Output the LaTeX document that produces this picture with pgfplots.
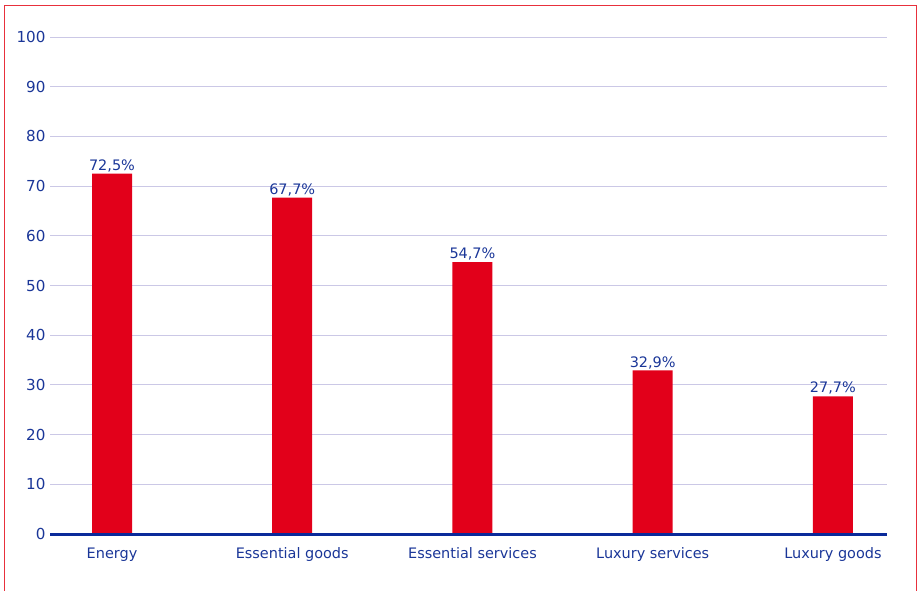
\documentclass[border=0pt]{standalone}
\usepackage{pgfplots}
\pgfplotsset{compat=1.18}
\usepackage{fontspec}
\setmainfont{DejaVu Sans}
\definecolor{barred}{HTML}{E2001A}
\definecolor{navy}{HTML}{0A2A9A}
\definecolor{txtblue}{HTML}{1A3698}
\definecolor{gridc}{HTML}{CBC8E6}
\definecolor{frame}{HTML}{E8303C}
\begin{document}
\begin{tikzpicture}
\path[use as bounding box] (0,0) rectangle (921bp,-591bp);
\draw[frame, line width=1.2bp] (4.5bp,-600bp) -- (4.5bp,-5.5bp) -- (916.5bp,-5.5bp) -- (916.5bp,-600bp);
\begin{axis}[
  at={(50bp,-534bp)}, anchor=south west,
  scale only axis, width=837bp, height=497bp,
  xmin=-0.344, xmax=4.30, ymin=0, ymax=100,
  ytick={0,10,...,100},
  xtick={0,1,2,3,4},
  xticklabels={Energy, Essential goods, Essential services, Luxury services, Luxury goods},
  axis line style={draw=none},
  major tick length=0pt,
  ymajorgrids, grid style={gridc, line width=1bp},
  /pgf/number format/assume math mode=true,
  yticklabel style={font=\fontsize{15.2}{18}\selectfont, text=txtblue, xshift=-1bp},
  xticklabel style={font=\fontsize{14.5}{16}\selectfont, text=txtblue, anchor=base, yshift=-24.5bp},
  nodes near coords={\pgfmathprintnumber[use comma,fixed,precision=1,fixed zerofill]{\pgfplotspointmeta}\%},
  every node near coord/.append style={font=\fontsize{14.5}{16}\selectfont, text=txtblue, inner sep=1.5bp},
  clip=false,
]
\addplot[ybar, bar width=40bp, fill=barred, draw=none] coordinates {(0,72.5) (1,67.7) (2,54.7) (3,32.9) (4,27.7)};
\draw[navy, line width=3bp] (axis cs:-0.344,0) -- (axis cs:4.30,0);
\end{axis}
\end{tikzpicture}
\end{document}
